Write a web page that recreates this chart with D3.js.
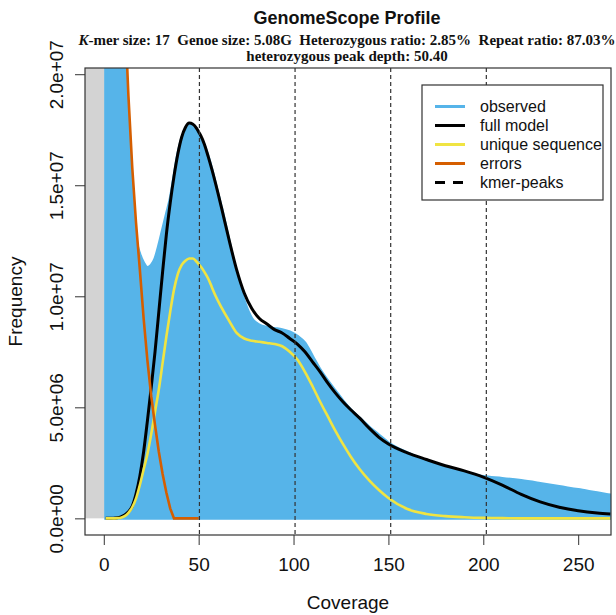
<!DOCTYPE html>
<html>
<head>
<meta charset="utf-8">
<script src="https://cdn.jsdelivr.net/npm/d3@7"></script>
<style>
  body { margin: 0; background: #fff; }
  text { font-family: "Liberation Sans", Arial, Helvetica, sans-serif; fill: #111; }
</style>
</head>
<body>
<svg id="fig" width="616" height="615"></svg>
<script>
// coverage sample points (x values)
var coverage = [1,3,5,7,9,11,13,15,17,19,21,23,25,27,29,31,33,35,37,39,41,43,45,47,49,50,51,53,55,57,59,
                62,66,70,74,78,82,86,90,94,98,102,106,110,114,118,122,126,130,135,140,145,150,
                160,170,180,190,200,210,220,230,240,250,260,267];

// frequencies, in millions of k-mers
var observed = [120,80,55,40,30,21.5,17.9,14.8,12.6,11.9,11.5,11.3,11.4,11.7,12.3,13.0,13.7,14.4,15.4,16.4,
                17.1,17.5,17.7,17.7,17.45,17.3,17.15,16.8,16.3,15.7,15.0,
                14.0,12.5,11.0,9.8,9.0,8.7,8.6,8.55,8.5,8.4,8.2,7.9,7.3,6.7,6.2,5.75,5.3,4.9,4.5,4.1,3.75,3.4,
                2.95,2.6,2.3,2.08,1.88,1.8,1.7,1.57,1.43,1.3,1.15,1.05];

var fullModel = [0,0,0.01,0.03,0.07,0.15,0.3,0.55,1.1,1.9,3.0,4.4,5.9,7.5,9.3,11.1,12.8,14.2,15.4,16.4,
                 17.15,17.6,17.8,17.75,17.55,17.4,17.25,16.85,16.3,15.7,15.05,
                 14.0,12.55,11.2,10.15,9.45,9.0,8.75,8.5,8.35,8.1,7.85,7.5,7.05,6.6,6.1,5.65,5.25,4.9,4.5,4.05,3.65,3.35,
                 2.95,2.65,2.37,2.14,1.86,1.5,1.08,0.74,0.5,0.34,0.24,0.2];

var uniqueSeq = [0,0,0,0.01,0.03,0.1,0.25,0.5,0.9,1.5,2.2,2.9,3.8,4.8,5.8,7.0,8.2,9.3,10.3,11.0,
                 11.4,11.6,11.7,11.7,11.55,11.45,11.35,11.1,10.8,10.4,10.0,
                 9.5,8.9,8.35,8.1,8.0,7.95,7.9,7.85,7.75,7.5,7.15,6.6,5.95,5.25,4.6,3.95,3.35,2.8,2.2,1.7,1.28,0.92,
                 0.42,0.2,0.1,0.05,0.02,0.01,0,0,0,0,0,0];

var errors = [85,63,48,37,29,23,19.0,15.8,13.3,11.2,9.0,7.1,5.5,4.2,3.0,2.0,1.15,0.45,0,0,
              0,0,0,0,0,0];   // stops at coverage 50

var kmerPeaks = [50.4, 100.8, 151.2, 201.6];

var xTicks = [0, 50, 100, 150, 200, 250];
var yTicks = [0, 5, 10, 15, 20];
var yTickLabels = ["0.0e+00", "5.0e+06", "1.0e+07", "1.5e+07", "2.0e+07"];

var legendLabels = ["observed", "full model", "unique sequence", "errors", "kmer-peaks"];
var legendColors = ["#56B4E9", "#000000", "#F0E442", "#D55E00", "#000000"];

var svg = d3.select("#fig");
var box = {left: 85, right: 611, top: 68, bottom: 535};

var x = d3.scaleLinear().domain([-9.9, 267.3]).range([box.left, box.right]);
var y = d3.scaleLinear().domain([-0.75, 20.28]).range([box.bottom, box.top]);

svg.append("clipPath").attr("id", "plotclip")
   .append("rect")
   .attr("x", box.left).attr("y", box.top)
   .attr("width", box.right - box.left).attr("height", box.bottom - box.top);

var plot = svg.append("g").attr("clip-path", "url(#plotclip)");

// grey region left of the first coverage bin
plot.append("rect")
    .attr("x", box.left).attr("y", box.top)
    .attr("width", x(0.5) - box.left).attr("height", y(0) - box.top)
    .attr("fill", "#D3D3D3");

var pts = function(vals) {
    return vals.map(function(v, i) { return [coverage[i], v]; });
};

// observed histogram (bars drawn as a filled area)
plot.append("path")
    .datum(pts(observed))
    .attr("fill", "#56B4E9")
    .attr("stroke", "#56B4E9").attr("stroke-width", 3)
    .attr("d", d3.area().curve(d3.curveMonotoneX)
                 .x(function(d) { return x(d[0]); })
                 .y0(y(0))
                 .y1(function(d) { return y(d[1]); }));

var line = d3.line().curve(d3.curveMonotoneX)
             .x(function(d) { return x(d[0]); })
             .y(function(d) { return y(d[1]); });

plot.append("path").datum(pts(fullModel))
    .attr("fill", "none").attr("stroke", "#000").attr("stroke-width", 3)
    .attr("d", line);

plot.append("path").datum(pts(uniqueSeq))
    .attr("fill", "none").attr("stroke", "#F0E442").attr("stroke-width", 2.6)
    .attr("d", line);

plot.append("path").datum(pts(errors))
    .attr("fill", "none").attr("stroke", "#D55E00").attr("stroke-width", 2.6)
    .attr("d", d3.line().x(function(d) { return x(d[0]); }).y(function(d) { return y(d[1]); }));

plot.selectAll(".peak").data(kmerPeaks).enter()
    .append("line")
    .attr("x1", function(d) { return x(d); }).attr("x2", function(d) { return x(d); })
    .attr("y1", box.top).attr("y2", box.bottom)
    .attr("stroke", "#333").attr("stroke-width", 1.2)
    .attr("stroke-dasharray", "4,3");

// box
svg.append("rect")
   .attr("x", box.left).attr("y", box.top)
   .attr("width", box.right - box.left).attr("height", box.bottom - box.top)
   .attr("fill", "none").attr("stroke", "#333").attr("stroke-width", 1.2);

// axes
var xAxis = svg.append("g")
    .attr("transform", "translate(0," + box.bottom + ")")
    .call(d3.axisBottom(x).tickValues(xTicks).tickSize(10).tickSizeOuter(0));
xAxis.select(".domain").remove();
xAxis.selectAll("line").attr("stroke", "#333");
xAxis.selectAll("text").attr("y", 36).attr("dy", 0)
     .style("font-size", "19px").style("font-family", "Liberation Sans, Arial, sans-serif").attr("fill", "#111");

var yAxis = svg.append("g")
    .attr("transform", "translate(" + box.left + ",0)")
    .call(d3.axisLeft(y).tickValues(yTicks).tickSize(10).tickSizeOuter(0)
            .tickFormat(function(d, i) { return yTickLabels[i]; }));
yAxis.select(".domain").remove();
yAxis.selectAll("line").attr("stroke", "#333");
yAxis.selectAll("text")
     .attr("transform", "rotate(-90)")
     .attr("x", 0).attr("y", -22).attr("dy", 0)
     .attr("text-anchor", "middle")
     .style("font-size", "19px").style("font-family", "Liberation Sans, Arial, sans-serif").attr("fill", "#111");

svg.append("text")
   .attr("x", (box.left + box.right) / 2).attr("y", 609)
   .attr("text-anchor", "middle").style("font-size", "19px")
   .text("Coverage");

svg.append("text")
   .attr("transform", "translate(22," + (box.top + box.bottom) / 2 + ") rotate(-90)")
   .attr("text-anchor", "middle").style("font-size", "19px")
   .text("Frequency");

// titles
svg.append("text")
   .attr("x", 347).attr("y", 24)
   .attr("text-anchor", "middle")
   .style("font-size", "18px").style("font-weight", "bold")
   .text("GenomeScope Profile");

var sub = svg.append("text")
   .attr("x", 347).attr("y", 45)
   .attr("text-anchor", "middle")
   .style("font-family", "Liberation Serif, Times New Roman, serif")
   .style("font-size", "15px").style("font-weight", "bold");
sub.append("tspan").style("font-style", "italic").text("K");
sub.append("tspan").text("-mer size: 17\u00a0 Genoe size: 5.08G\u00a0 Heterozygous ratio: 2.85%\u00a0 Repeat ratio: 87.03%");

svg.append("text")
   .attr("x", 347).attr("y", 61)
   .attr("text-anchor", "middle")
   .style("font-family", "Liberation Serif, Times New Roman, serif")
   .style("font-size", "15px").style("font-weight", "bold")
   .text("heterozygous peak depth: 50.40");

// legend
var lg = svg.append("g");
lg.append("rect")
  .attr("x", 422).attr("y", 85).attr("width", 181).attr("height", 115)
  .attr("fill", "#fff").attr("stroke", "#333").attr("stroke-width", 1.2);

var rows = lg.selectAll(".row").data(legendLabels).enter()
  .append("g")
  .attr("transform", function(d, i) { return "translate(0," + (106.5 + i * 19) + ")"; });

rows.append("line")
  .attr("x1", 435).attr("x2", 465).attr("y1", 0).attr("y2", 0)
  .attr("stroke", function(d, i) { return legendColors[i]; })
  .attr("stroke-width", 3)
  .attr("stroke-dasharray", function(d, i) { return i == 4 ? "10,8" : null; });

rows.append("text")
  .attr("x", 480).attr("y", 5.5)
  .style("font-size", "16px")
  .text(function(d) { return d; });
</script>
</body>
</html>
